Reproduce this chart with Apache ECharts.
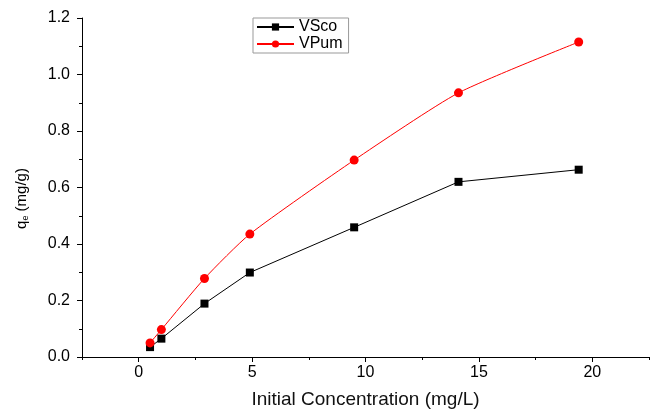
<!DOCTYPE html>
<html>
<head>
<meta charset="utf-8">
<script src="https://cdn.jsdelivr.net/npm/echarts@6/dist/echarts.min.js"></script>
<style>html,body{margin:0;padding:0;background:#fff}#c{width:667px;height:412px}</style>
</head>
<body>
<div id="c"></div>
<script>
const concentrations = [0.5, 1.0, 2.9, 4.9, 9.5, 14.1, 19.4];
const vscoValues = [0.035, 0.065, 0.189, 0.299, 0.459, 0.620, 0.663];
const vpumValues = [0.050, 0.097, 0.278, 0.435, 0.697, 0.935, 1.115];
const xMajorTicks = [0, 5, 10, 15, 20];

const font = 'Liberation Sans, Arial, sans-serif';
const chart = echarts.init(document.getElementById('c'));
chart.setOption({
  backgroundColor: '#fff',
  animation: false,
  grid: {left: 82, right: 18, top: 18, bottom: 55, containLabel: false, outerBoundsMode: 'none'},
  legend: {
    orient: 'vertical', left: 253, top: 18,
    padding: [1, 6, 1, 3], itemGap: 1, itemWidth: 37, itemHeight: 9,
    borderColor: '#999', borderWidth: 1,
    textStyle: {fontFamily: font, fontSize: 16, color: '#000', lineHeight: 16},
    data: ['VSco', 'VPum']
  },
  xAxis: [{
    type: 'value', min: -2.5, max: 22.5, interval: 2.5,
    name: 'Initial Concentration (mg/L)', nameLocation: 'middle', nameGap: 33,
    nameTextStyle: {fontFamily: font, fontSize: 19, color: '#111'},
    axisLine: {show: true, onZero: false, lineStyle: {color: '#000', width: 1}},
    axisTick: {show: true, inside: false, length: 3, lineStyle: {color: '#000'}},
    axisLabel: {fontFamily: font, fontSize: 16, color: '#000', margin: 8,
      formatter: v => (Math.abs(v % 5) < 1e-9 && v >= 0 && v <= 20) ? String(v) : ''},
    splitLine: {show: false}
  }, {
    type: 'value', min: -2.5, max: 22.5, position: 'bottom',
    axisLine: {show: false, onZero: false},
    axisTick: {show: true, length: 5, customValues: xMajorTicks, lineStyle: {color: '#000'}},
    axisLabel: {show: false},
    splitLine: {show: false}
  }],
  yAxis: {
    type: 'value', min: 0, max: 1.2, interval: 0.2,
    name: '{a|q}{b|e}{a| (mg/g)}', nameLocation: 'middle', nameGap: 52,
    nameTextStyle: {padding: [0, 22, 0, 0], rich: {
      a: {fontFamily: font, fontSize: 15, color: '#000'},
      b: {fontFamily: font, fontSize: 9, color: '#000', verticalAlign: 'bottom', padding: [7, 0, 0, 0]}
    }},
    axisLine: {show: true, onZero: false, lineStyle: {color: '#000', width: 1}},
    axisTick: {show: true, length: 5, lineStyle: {color: '#000'}},
    minorTick: {show: true, splitNumber: 2, length: 3, lineStyle: {color: '#000'}},
    axisLabel: {fontFamily: font, fontSize: 16, color: '#000', margin: 12, formatter: v => v.toFixed(1)},
    splitLine: {show: false}
  },
  series: [{
    name: 'VSco', type: 'line',
    data: concentrations.map((x, i) => [x, vscoValues[i]]),
    symbol: 'rect', symbolSize: 8,
    itemStyle: {color: '#000'},
    lineStyle: {color: '#000', width: 1}
  }, {
    name: 'VPum', type: 'line', smooth: 0.2,
    data: concentrations.map((x, i) => [x, vpumValues[i]]),
    symbol: 'circle', symbolSize: 9,
    itemStyle: {color: '#ff0000'},
    lineStyle: {color: '#ff0000', width: 1}
  }]
});
</script>
</body>
</html>
